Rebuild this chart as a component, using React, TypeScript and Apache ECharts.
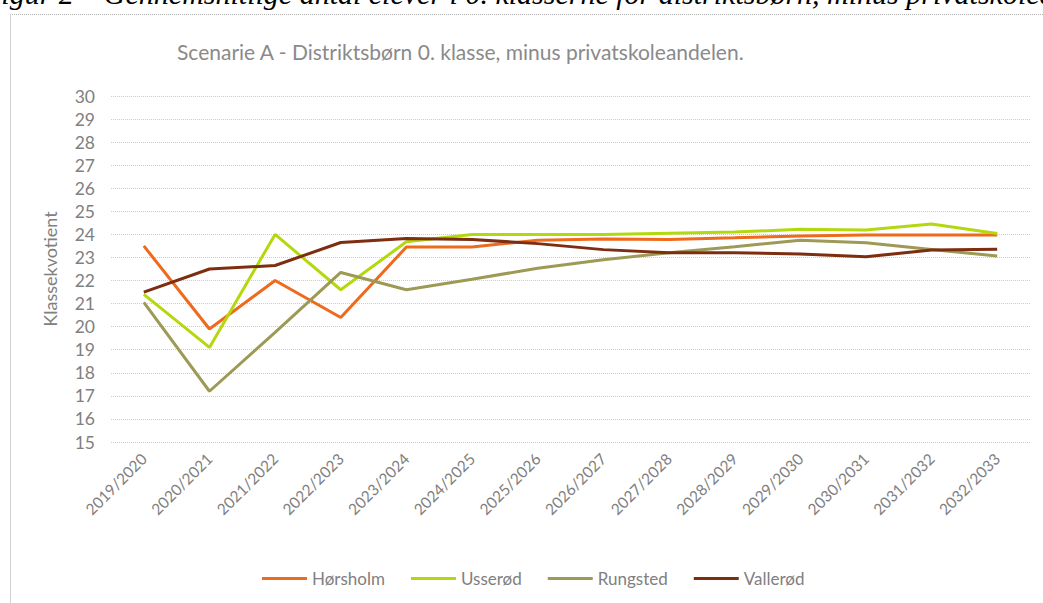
import React, { useEffect, useRef } from "react";
import * as echarts from "echarts";

const categories = [
  "2019/2020", "2020/2021", "2021/2022", "2022/2023", "2023/2024", "2024/2025", "2025/2026",
  "2026/2027", "2027/2028", "2028/2029", "2029/2030", "2030/2031", "2031/2032", "2032/2033",
];
const horsholm = [23.5, 19.9, 22.0, 20.4, 23.45, 23.45, 23.75, 23.8, 23.78, 23.85, 23.93, 23.97, 23.97, 23.97];
const usserod = [21.4, 19.1, 24.0, 21.6, 23.68, 24.0, 24.0, 24.0, 24.05, 24.1, 24.22, 24.19, 24.45, 24.04];
const rungsted = [21.05, 17.2, 19.75, 22.35, 21.6, 22.06, 22.53, 22.9, 23.2, 23.46, 23.75, 23.64, 23.35, 23.06];
const vallerod = [21.5, 22.5, 22.65, 23.65, 23.82, 23.78, 23.6, 23.34, 23.2, 23.2, 23.15, 23.03, 23.32, 23.36];
const seriesNames = ["Hørsholm", "Usserød", "Rungsted", "Vallerød"];
const seriesColors = ["#EE6A1C", "#B4D80E", "#9C9A55", "#7E2E10"];
const yTicks = { min: 15, max: 30, interval: 1 };

const FONT = "Lato";
const GREY = "#808080";

export default function App() {
  const ref = useRef<HTMLDivElement>(null);
  useEffect(() => {
    if (!ref.current) return;
    const chart = echarts.init(ref.current, null, { renderer: "svg" });
    const data = [horsholm, usserod, rungsted, vallerod];
    chart.setOption({
      animation: false,
      title: {
        text: "Scenarie A - Distriktsbørn 0. klasse, minus privatskoleandelen.",
        left: 172,
        top: 36,
        textStyle: { fontFamily: FONT, fontSize: 21, fontWeight: "normal", color: "#8a8a8a" },
      },
      grid: { left: 111, right: 13, top: 96, bottom: 161 },
      xAxis: {
        type: "category",
        data: categories,
        boundaryGap: true,
        axisLine: { show: false },
        axisTick: { show: false },
        splitLine: { show: false },
        axisLabel: { rotate: 45, interval: 0, color: GREY, fontSize: 15.5, fontFamily: FONT, margin: 14 },
      },
      yAxis: {
        type: "value",
        min: yTicks.min,
        max: yTicks.max,
        interval: yTicks.interval,
        name: "Klassekvotient",
        nameLocation: "middle",
        nameGap: 52,
        nameTextStyle: { fontFamily: FONT, fontSize: 18, color: GREY },
        axisLine: { show: false },
        axisTick: { show: false },
        axisLabel: { color: GREY, fontSize: 17.5, fontFamily: FONT, margin: 16 },
        splitLine: { lineStyle: { type: "dotted", color: "#cccccc", width: 1 } },
      },
      legend: {
        left: 257,
        top: 565,
        icon: "rect",
        itemWidth: 45,
        itemHeight: 3,
        itemGap: 26,
        textStyle: { fontFamily: FONT, fontSize: 17, color: GREY },
        data: seriesNames,
      },
      series: seriesNames.map((name, i) => ({
        name,
        type: "line",
        data: data[i],
        showSymbol: false,
        symbol: "none",
        color: seriesColors[i],
        lineStyle: { width: 3, color: seriesColors[i] },
      })),
      graphic: [
        {
          type: "text",
          x: -17,
          y: -7,
          style: {
            text: "Figur 2 – Gennemsnitlige antal elever i 0. klasserne for distriktsbørn, minus privatskoleandelen",
            fontFamily: "Liberation Serif",
            fontStyle: "italic",
            fontSize: 30,
            fill: "#000",
            verticalAlign: "middle",
          },
        },
        {
          type: "line",
          shape: { x1: 10, y1: 14.5, x2: 1043, y2: 14.5 },
          style: { stroke: "#b0b0b0", lineWidth: 1, lineDash: [1, 1] },
        },
        {
          type: "line",
          shape: { x1: 10.5, y1: 14, x2: 10.5, y2: 603 },
          style: { stroke: "#d0d0d0", lineWidth: 1 },
        },
      ],
    });
    return () => chart.dispose();
  }, []);
  return (
    <div
      ref={ref}
      style={{ position: "absolute", left: 0, top: 0, width: 1043, height: 603, background: "#fff" }}
    />
  );
}
